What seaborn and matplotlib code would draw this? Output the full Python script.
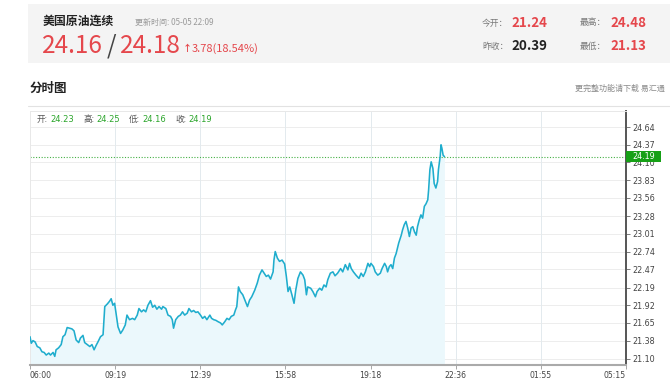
import numpy as np
import pandas as pd
import matplotlib
matplotlib.use("Agg")
import matplotlib.pyplot as plt
import matplotlib.transforms as mtransforms
from matplotlib.patches import Rectangle
from matplotlib.lines import Line2D
import seaborn as sns

# ---------------- data ----------------
minutes = [0, 3, 7, 12, 17, 23, 28, 33, 38, 44, 48, 54, 58, 61, 67, 73, 77, 82, 87, 93,
           98, 103, 108, 114, 118, 124, 128, 134, 140, 145, 150, 155, 159, 165, 171, 175, 181, 186, 190, 194,
           198, 202, 206, 212, 217, 223, 227, 233,
           240, 245, 251, 255, 261, 266, 271, 276, 282, 287, 292, 297, 302, 308, 311, 318, 323, 329, 333, 336,
           341, 347, 352, 357, 362, 368, 372, 378, 383, 388, 393, 399, 404, 409, 414, 421, 425, 430, 435, 440,
           446, 450, 456, 461, 466, 471, 477, 481, 484, 488, 492, 498,
           504, 509, 514, 519, 526, 532, 537, 543, 548, 553, 558, 563, 569, 571, 574, 579, 584, 590, 596, 600,
           604, 608, 613, 618, 622, 627, 633, 639, 643, 647, 650, 657, 662, 668, 672, 678, 683, 688, 693, 697,
           703, 709, 714, 720, 727, 732, 738, 744, 748,
           752, 757, 763, 770, 775, 780, 785, 791, 795, 798, 804, 808, 814, 820, 824, 830, 834, 837, 841, 845,
           849, 853, 857, 863, 869, 872, 876, 880, 884, 888, 892, 896, 900, 904, 907, 911, 915, 919, 923, 927,
           931, 933, 936, 939, 943, 946, 950, 954, 956, 960, 962, 964, 967, 970]
prices = [21.44, 21.34, 21.38, 21.36, 21.29, 21.27, 21.21, 21.20, 21.16, 21.19, 21.16, 21.20, 21.14, 21.24, 21.27, 21.32, 21.44, 21.47, 21.58, 21.57,
          21.56, 21.53, 21.39, 21.35, 21.42, 21.46, 21.35, 21.32, 21.29, 21.32, 21.24, 21.31, 21.36, 21.44, 21.47, 21.90, 21.94, 21.98, 22.02, 21.92,
          21.95, 21.77, 21.59, 21.49, 21.54, 21.62, 21.77, 21.70,
          21.72, 21.70, 21.77, 21.87, 21.82, 21.85, 21.82, 21.92, 21.99, 21.89, 21.92, 21.86, 21.90, 21.86, 21.90, 21.87, 21.77, 21.75, 21.70, 21.57,
          21.70, 21.75, 21.77, 21.82, 21.77, 21.80, 21.87, 21.82, 21.84, 21.81, 21.82, 21.77, 21.72, 21.75, 21.70, 21.77, 21.72, 21.70, 21.69, 21.67,
          21.65, 21.62, 21.67, 21.72, 21.70, 21.75, 21.77, 21.85, 21.90, 22.20, 22.13, 22.08,
          21.98, 21.90, 22.00, 22.05, 22.15, 22.26, 22.38, 22.46, 22.41, 22.36, 22.38, 22.32, 22.43, 22.61, 22.74, 22.64, 22.59, 22.61, 22.55, 22.36,
          22.13, 22.20, 22.08, 21.95, 22.15, 22.33, 22.43, 22.38, 22.31, 22.08, 22.20, 22.18, 22.13, 22.05, 22.13, 22.18, 22.15, 22.23, 22.20, 22.31,
          22.41, 22.43, 22.37, 22.41, 22.48, 22.43, 22.54, 22.46, 22.56,
          22.48, 22.43, 22.38, 22.33, 22.41, 22.36, 22.43, 22.56, 22.51, 22.56, 22.51, 22.43, 22.38, 22.41, 22.48, 22.56, 22.51, 22.43, 22.51, 22.54,
          22.48, 22.64, 22.71, 22.87, 22.99, 23.07, 23.15, 23.20, 23.10, 22.97, 23.10, 23.12, 23.04, 22.99, 23.12, 23.22, 23.30, 23.25, 23.43, 23.47,
          23.53, 23.68, 23.99, 24.11, 24.01, 23.78, 23.71, 23.81, 23.99, 24.19, 24.37, 24.32, 24.21, 24.19]

x_tick_labels = ["06:00", "09:19", "12:39", "15:58", "19:18", "22:36", "01:55", "05:15"]
y_ticks = [21.10, 21.38, 21.65, 21.92, 22.19, 22.47, 22.74, 23.01, 23.28, 23.56, 23.83, 24.10, 24.37, 24.64]
session_minutes = 1395
last_price = 24.19

title = "美国原油连续"
update_time = "更新时间: 05-05 22:09"
bid, ask = "24.16", "24.18"
change_text = "3.78(18.54%)"
open_today, prev_close, day_high, day_low = "21.24", "20.39", "24.48", "21.13"
bar_info = [("开:", "24.23"), ("高:", "24.25"), ("低:", "24.16"), ("收:", "24.19")]

# ---------------- style ----------------
sns.set_theme(style="white")
plt.rcParams['font.family'] = ['Noto Sans CJK SC', 'DejaVu Sans']

RED = "#E5474C"
GREEN = "#2BA52B"
LINE = "#1FADCD"
FILL = "#EBF8FC"

W, H = 670, 380
fig = plt.figure(figsize=(W / 100, H / 100), dpi=100)
fig.patch.set_facecolor("white")


def fx(p):
    return p / W


def fy(p):
    return 1 - p / H


# header panel
fig.patches.append(Rectangle((fx(28), fy(63)), fx(670) - fx(28), fy(4) - fy(63),
                             transform=fig.transFigure, facecolor="#F4F4F4", edgecolor="none", zorder=0))
fig.text(fx(43), fy(21), title, fontsize=8.6, fontweight="bold", color="#222", va="center", ha="left")
fig.text(fx(135), fy(22), update_time, fontsize=5.8, color="#9A9A9A", va="center", ha="left")
fig.text(fx(42), fy(46), bid, fontsize=17.5, fontweight="medium", color=RED, va="center", ha="left")
fig.text(fx(107), fy(46), "/", fontsize=17.5, fontweight="medium", color="#444", va="center", ha="left")
fig.text(fx(120), fy(46), ask, fontsize=17.5, fontweight="medium", color=RED, va="center", ha="left")
fig.text(fx(183), fy(48.5), "↑", fontsize=6.5, color=RED, va="center", ha="left", fontweight="bold")
fig.text(fx(192), fy(48.5), change_text, fontsize=8.0, color=RED, va="center", ha="left")

fig.text(fx(482), fy(23), "今开：", fontsize=6.3, color="#777", va="center", ha="left")
fig.text(fx(511), fy(23), open_today, fontsize=9.6, fontweight="bold", color=RED, va="center", ha="left")
fig.text(fx(580), fy(23), "最高：", fontsize=6.3, color="#777", va="center", ha="left")
fig.text(fx(610), fy(23), day_high, fontsize=9.6, fontweight="bold", color=RED, va="center", ha="left")
fig.text(fx(482), fy(46), "昨收：", fontsize=6.3, color="#777", va="center", ha="left")
fig.text(fx(511), fy(46), prev_close, fontsize=9.6, fontweight="bold", color="#222", va="center", ha="left")
fig.text(fx(580), fy(46), "最低：", fontsize=6.3, color="#777", va="center", ha="left")
fig.text(fx(610), fy(46), day_low, fontsize=9.6, fontweight="bold", color=RED, va="center", ha="left")

fig.text(fx(30), fy(88), "分时图", fontsize=9, fontweight="bold", color="#222", va="center", ha="left")
fig.text(fx(575), fy(88), "更完整功能请下载 易汇通", fontsize=5.8, color="#8A8A8A", va="center", ha="left")
fig.lines.append(Line2D([fx(28), fx(670)], [fy(106), fy(106)], transform=fig.transFigure,
                        color="#E2E2E2", lw=0.8))

# ---------------- chart ----------------
ax = fig.add_axes([fx(30), fy(365), (626 - 30) / W, (365 - 111) / H])
ymin, ymax = 21.008, 24.886
df = pd.DataFrame({"minute": minutes, "price": prices})

ax.fill_between(df["minute"], df["price"], ymin, color=FILL, lw=0, zorder=1)
sns.lineplot(data=df, x="minute", y="price", ax=ax, color=LINE, linewidth=1.15, zorder=3)

ax.set_xlim(0, session_minutes)
ax.set_ylim(ymin, ymax)
ax.set_xlabel("")
ax.set_ylabel("")

xt = np.linspace(0, session_minutes, len(x_tick_labels))
ax.set_xticks(xt)
ax.set_xticklabels(x_tick_labels)
for i, lab in enumerate(ax.get_xticklabels()):
    if i == 0:
        lab.set_ha("left")
    elif i == len(x_tick_labels) - 1:
        lab.set_ha("right")
    else:
        lab.set_ha("center")
    lab.set_family("DejaVu Sans")

ax.yaxis.tick_right()
ax.set_yticks(y_ticks)
ax.set_yticklabels([f"{v:.2f}" for v in y_ticks])
for lab in ax.get_yticklabels():
    lab.set_family("DejaVu Sans")

ax.tick_params(axis="y", which="both", right=True, left=False, length=3, width=0.6,
               color="#666", labelsize=5.8, labelcolor="#444", pad=1.5, direction="out")
ax.tick_params(axis="x", which="both", bottom=True, length=3, width=0.6,
               color="#999", labelsize=5.6, labelcolor="#444", pad=1.5, direction="out")

ax.grid(False)
for v in y_ticks:
    ax.axhline(v, color="#EDEDED", lw=0.7, zorder=0)
for v in xt[1:-1]:
    ax.axvline(v, color="#E3EAEE", lw=0.7, zorder=0)

ax.spines["right"].set_color("#555")
ax.spines["right"].set_linewidth(1.4)
ax.spines["bottom"].set_color("#AAAAAA")
ax.spines["bottom"].set_linewidth(1.5)
ax.spines["top"].set_color("#E8E8E8")
ax.spines["top"].set_linewidth(0.7)
ax.spines["left"].set_color("#E8E8E8")
ax.spines["left"].set_linewidth(0.7)

# last price dotted line & label
ax.axhline(last_price, color="#45B045", lw=0.8, ls=(0, (1, 1.5)), zorder=2)
blend = mtransforms.blended_transform_factory(ax.transAxes, ax.transData)
ax.add_patch(Rectangle((1.0, last_price - 0.085), 35 / 596, 0.17, transform=blend,
                       facecolor="#16A016", edgecolor="none", clip_on=False, zorder=5))
ax.text(1.0 + 6 / 596, last_price, f"{last_price:.2f}", transform=blend, fontsize=5.8,
        color="white", va="center", ha="left", family="DejaVu Sans", zorder=6, clip_on=False)

# bar info inside plot
info_x = [(37, 50), (83, 96), (129, 142), (175, 188)]
for (lab, val), (lx, vx) in zip(bar_info, info_x):
    fig.text(fx(lx), fy(119.5), lab, fontsize=6.2, color="#555", va="center", ha="left")
    fig.text(fx(vx), fy(119.5), val, fontsize=6.0, color=GREEN, va="center", ha="left",
             family="DejaVu Sans")

fig.savefig("out.png", dpi=100, facecolor="white")
